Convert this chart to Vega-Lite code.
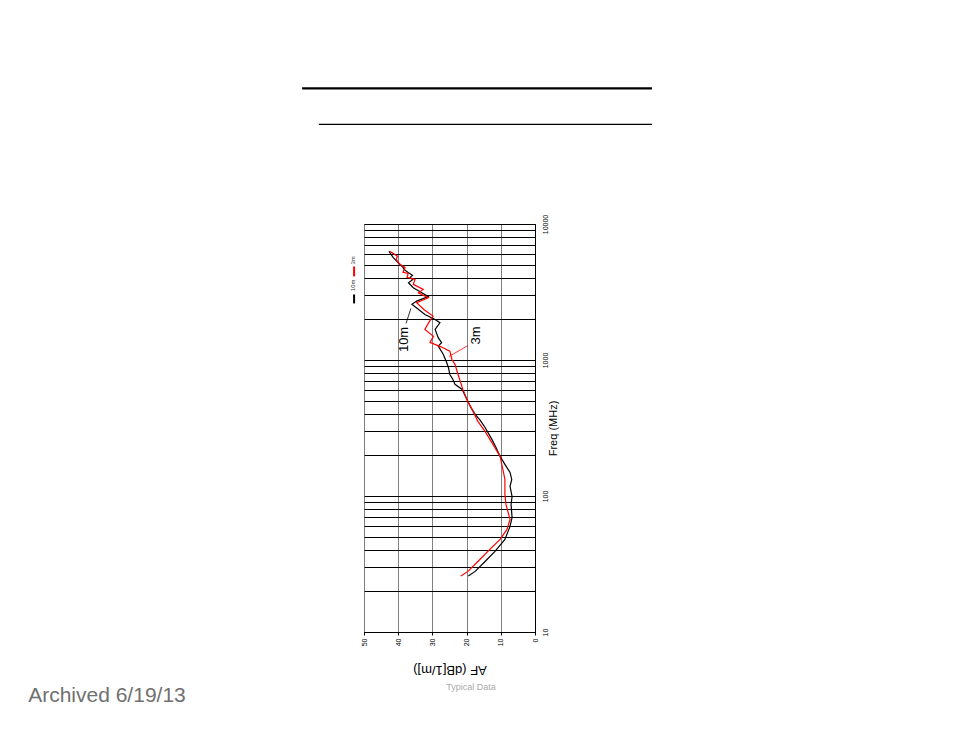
{
  "$schema": "https://vega.github.io/schema/vega-lite/v6.json",
  "width": 171,
  "height": 408,
  "autosize": {"type": "none"},
  "padding": {"left": 364, "top": 224, "right": 419, "bottom": 106},
  "background": "white",
  "config": {
    "font": "Liberation Sans",
    "view": {"stroke": "#000", "strokeWidth": 1}
  },
  "datasets": {
    "af": [
      {"series": "10m", "freq": 25.8, "af": 19.5},
      {"series": "10m", "freq": 27.9, "af": 17.5},
      {"series": "10m", "freq": 33.0, "af": 14.6},
      {"series": "10m", "freq": 39.1, "af": 11.7},
      {"series": "10m", "freq": 48.0, "af": 8.8},
      {"series": "10m", "freq": 59.8, "af": 7.3},
      {"series": "10m", "freq": 69.6, "af": 6.7},
      {"series": "10m", "freq": 86.7, "af": 7.0},
      {"series": "10m", "freq": 99, "af": 6.7},
      {"series": "10m", "freq": 117.7, "af": 7.3},
      {"series": "10m", "freq": 132.4, "af": 6.8},
      {"series": "10m", "freq": 149, "af": 7.3},
      {"series": "10m", "freq": 171, "af": 8.8},
      {"series": "10m", "freq": 195.5, "af": 10.2},
      {"series": "10m", "freq": 230, "af": 11.5},
      {"series": "10m", "freq": 260.7, "af": 12.6},
      {"series": "10m", "freq": 319, "af": 14.6},
      {"series": "10m", "freq": 360, "af": 16.0},
      {"series": "10m", "freq": 398, "af": 17.5},
      {"series": "10m", "freq": 450, "af": 18.8},
      {"series": "10m", "freq": 513, "af": 19.9},
      {"series": "10m", "freq": 608, "af": 21.3},
      {"series": "10m", "freq": 662, "af": 23.4},
      {"series": "10m", "freq": 720, "af": 24.0},
      {"series": "10m", "freq": 783, "af": 24.9},
      {"series": "10m", "freq": 880, "af": 25.3},
      {"series": "10m", "freq": 955, "af": 25.8},
      {"series": "10m", "freq": 1099, "af": 26.8},
      {"series": "10m", "freq": 1265, "af": 28.3},
      {"series": "10m", "freq": 1340, "af": 27.3},
      {"series": "10m", "freq": 1459, "af": 28.3},
      {"series": "10m", "freq": 1680, "af": 29.2},
      {"series": "10m", "freq": 1879, "af": 27.8},
      {"series": "10m", "freq": 1987, "af": 29.2},
      {"series": "10m", "freq": 2163, "af": 32.2},
      {"series": "10m", "freq": 2400, "af": 34.5},
      {"series": "10m", "freq": 2566, "af": 36.0},
      {"series": "10m", "freq": 2711, "af": 34.6},
      {"series": "10m", "freq": 2925, "af": 31.2},
      {"series": "10m", "freq": 3034, "af": 32.2},
      {"series": "10m", "freq": 3404, "af": 35.6},
      {"series": "10m", "freq": 3698, "af": 37.0},
      {"series": "10m", "freq": 3900, "af": 35.8},
      {"series": "10m", "freq": 4047, "af": 36.5},
      {"series": "10m", "freq": 4200, "af": 35.8},
      {"series": "10m", "freq": 4406, "af": 37.1},
      {"series": "10m", "freq": 4637, "af": 38.3},
      {"series": "10m", "freq": 4797, "af": 38.6},
      {"series": "10m", "freq": 5047, "af": 39.5},
      {"series": "10m", "freq": 5309, "af": 40.4},
      {"series": "10m", "freq": 5680, "af": 41.5},
      {"series": "10m", "freq": 5976, "af": 42.1},
      {"series": "10m", "freq": 6290, "af": 42.7},
      {"series": "3m", "freq": 25.8, "af": 21.7},
      {"series": "3m", "freq": 27.9, "af": 19.6},
      {"series": "3m", "freq": 33.0, "af": 16.7},
      {"series": "3m", "freq": 40.5, "af": 13.2},
      {"series": "3m", "freq": 48.0, "af": 10.2},
      {"series": "3m", "freq": 56.8, "af": 8.2},
      {"series": "3m", "freq": 67.3, "af": 7.3},
      {"series": "3m", "freq": 86.7, "af": 8.5},
      {"series": "3m", "freq": 102.8, "af": 8.8},
      {"series": "3m", "freq": 132.4, "af": 8.8},
      {"series": "3m", "freq": 157, "af": 9.4},
      {"series": "3m", "freq": 195.5, "af": 10.2},
      {"series": "3m", "freq": 239.5, "af": 12.3},
      {"series": "3m", "freq": 298.5, "af": 14.6},
      {"series": "3m", "freq": 354, "af": 16.7},
      {"series": "3m", "freq": 433, "af": 18.4},
      {"series": "3m", "freq": 513, "af": 19.9},
      {"series": "3m", "freq": 608, "af": 21.1},
      {"series": "3m", "freq": 783, "af": 22.5},
      {"series": "3m", "freq": 929, "af": 23.4},
      {"series": "3m", "freq": 1009, "af": 24.3},
      {"series": "3m", "freq": 1161, "af": 24.9},
      {"series": "3m", "freq": 1250, "af": 27.5},
      {"series": "3m", "freq": 1347, "af": 30.7},
      {"series": "3m", "freq": 1492, "af": 29.7},
      {"series": "3m", "freq": 1680, "af": 32.2},
      {"series": "3m", "freq": 1900, "af": 31.0},
      {"series": "3m", "freq": 2104, "af": 29.8},
      {"series": "3m", "freq": 2350, "af": 32.5},
      {"series": "3m", "freq": 2636, "af": 34.6},
      {"series": "3m", "freq": 2871, "af": 31.2},
      {"series": "3m", "freq": 3119, "af": 34.1},
      {"series": "3m", "freq": 3304, "af": 32.7},
      {"series": "3m", "freq": 3597, "af": 35.6},
      {"series": "3m", "freq": 3917, "af": 35.1},
      {"series": "3m", "freq": 4047, "af": 37.4},
      {"series": "3m", "freq": 4333, "af": 37.1},
      {"series": "3m", "freq": 4406, "af": 38.6},
      {"series": "3m", "freq": 4797, "af": 38.0},
      {"series": "3m", "freq": 5047, "af": 39.5},
      {"series": "3m", "freq": 5495, "af": 40.6},
      {"series": "3m", "freq": 5800, "af": 40.2},
      {"series": "3m", "freq": 6081, "af": 41.5},
      {"series": "3m", "freq": 6290, "af": 42.4}
    ],
    "one": [{}]
  },
  "layer": [
    {
      "data": {"name": "af"},
      "mark": {"type": "line", "strokeWidth": 1.2, "clip": false},
      "encoding": {
        "x": {
          "field": "af",
          "type": "quantitative",
          "title": "AF (dB[1/m])",
          "scale": {"domain": [0, 50], "reverse": true, "nice": false, "zero": false},
          "axis": {
            "values": [0, 10, 20, 30, 40, 50],
            "tickCount": 6,
            "grid": true,
            "labelOverlap": false,
            "labelAngle": -90,
            "labelFontSize": 7,
            "labelColor": "#000",
            "labelPadding": 3,
            "tickSize": 3,
            "tickColor": "#000",
            "domainColor": "#000",
            "gridColor": "#808080",
            "gridOpacity": 1,
            "titleAngle": 180,
            "titleFontSize": 13,
            "titleFontWeight": "normal",
            "titleColor": "#000",
            "titlePadding": 30
          }
        },
        "y": {
          "field": "freq",
          "type": "quantitative",
          "title": "Freq (MHz)",
          "scale": {"type": "log", "domain": [10, 10000], "nice": false},
          "axis": {
            "orient": "right",
            "values": [10, 20, 30, 40, 50, 60, 70, 80, 90, 100, 200, 300, 400, 500, 600, 700, 800, 900, 1000, 2000, 3000, 4000, 5000, 6000, 7000, 8000, 9000, 10000],
            "format": "d",
            "labelExpr": "datum.value == 10 || datum.value == 100 || datum.value == 1000 || datum.value == 10000 ? datum.label : ''",
            "labelOverlap": false,
            "labelAngle": -90,
            "labelFontSize": 7,
            "labelColor": "#000",
            "labelPadding": 6,
            "ticks": false,
            "domainColor": "#000",
            "gridColor": "#000",
            "gridOpacity": 1,
            "titleAngle": -90,
            "titleFontSize": 11,
            "titleFontWeight": "normal",
            "titleColor": "#000",
            "titlePadding": 10
          }
        },
        "color": {
          "field": "series",
          "type": "nominal",
          "scale": {"domain": ["10m", "3m"], "range": ["#000000", "#ff0000"]},
          "legend": null
        },
        "order": {"field": "freq", "type": "quantitative"}
      }
    },
    {
      "data": {"name": "one"},
      "mark": {"type": "rule", "color": "#000", "strokeWidth": 2.2},
      "encoding": {
        "x": {"datum": 68.1},
        "x2": {"datum": -34.2},
        "y": {"datum": 99300}
      }
    },
    {
      "data": {"name": "one"},
      "mark": {"type": "rule", "color": "#000", "strokeWidth": 1.2},
      "encoding": {
        "x": {"datum": 63.2},
        "x2": {"datum": -34.2},
        "y": {"datum": 53950}
      }
    },
    {
      "data": {"name": "one"},
      "mark": {"type": "rule", "color": "#000", "strokeWidth": 2},
      "encoding": {
        "x": {"datum": 52.9},
        "y": {"datum": 2606},
        "y2": {"datum": 3034}
      }
    },
    {
      "data": {"name": "one"},
      "mark": {"type": "rule", "color": "#ff0000", "strokeWidth": 2},
      "encoding": {
        "x": {"datum": 52.9},
        "y": {"datum": 4121},
        "y2": {"datum": 4874}
      }
    },
    {
      "data": {"name": "one"},
      "mark": {"type": "text", "text": "10m", "angle": 270, "fontSize": 6, "color": "#333", "align": "center", "baseline": "middle"},
      "encoding": {
        "x": {"datum": 53.2},
        "y": {"datum": 3538}
      }
    },
    {
      "data": {"name": "one"},
      "mark": {"type": "text", "text": "3m", "angle": 270, "fontSize": 6, "color": "#333", "align": "center", "baseline": "middle"},
      "encoding": {
        "x": {"datum": 53.2},
        "y": {"datum": 5395}
      }
    },
    {
      "data": {"name": "one"},
      "mark": {"type": "rule", "color": "#000", "strokeWidth": 0.8},
      "encoding": {
        "x": {"datum": 37.7},
        "y": {"datum": 1858},
        "x2": {"datum": 36.3},
        "y2": {"datum": 2393}
      }
    },
    {
      "data": {"name": "one"},
      "mark": {"type": "rule", "color": "#ff0000", "strokeWidth": 0.8},
      "encoding": {
        "x": {"datum": 25.1},
        "y": {"datum": 1062},
        "x2": {"datum": 19.6},
        "y2": {"datum": 1279}
      }
    },
    {
      "data": {"name": "one"},
      "mark": {"type": "text", "text": "10m", "angle": 270, "fontSize": 13, "color": "#000", "align": "center", "baseline": "middle"},
      "encoding": {
        "x": {"datum": 38.3},
        "y": {"datum": 1416}
      }
    },
    {
      "data": {"name": "one"},
      "mark": {"type": "text", "text": "3m", "angle": 270, "fontSize": 13, "color": "#000", "align": "center", "baseline": "middle"},
      "encoding": {
        "x": {"datum": 17.3},
        "y": {"datum": 1517}
      }
    },
    {
      "data": {"name": "one"},
      "mark": {"type": "text", "text": "Typical Data", "fontSize": 9, "color": "#aaaaaa", "align": "center", "baseline": "middle"},
      "encoding": {
        "x": {"datum": 18.7},
        "y": {"datum": 3.91}
      }
    },
    {
      "data": {"name": "one"},
      "mark": {"type": "text", "text": "Archived 6/19/13", "fontSize": 21, "color": "#707070", "align": "left", "baseline": "middle"},
      "encoding": {
        "x": {"datum": 148.2},
        "y": {"datum": 3.36}
      }
    }
  ]
}
